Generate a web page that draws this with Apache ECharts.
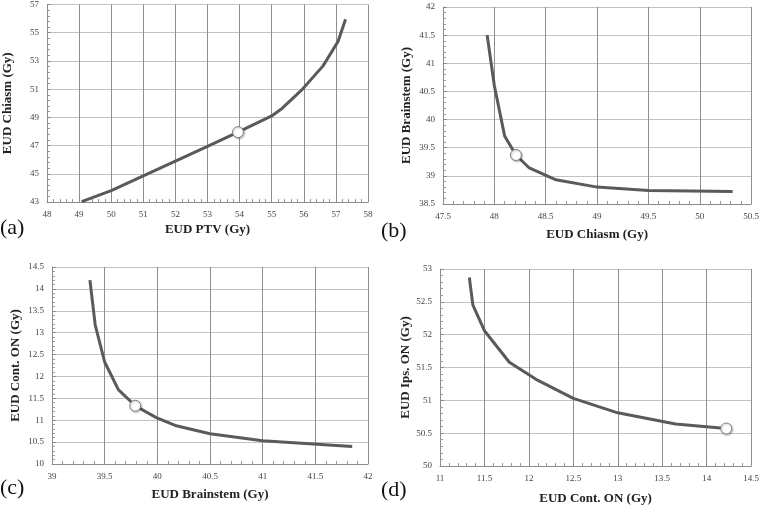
<!DOCTYPE html>
<html>
<head>
<meta charset="utf-8">
<script src="https://cdn.jsdelivr.net/npm/echarts@6/dist/echarts.min.js"></script>
<style>html,body{margin:0;padding:0;background:#fff;}#c{width:762px;height:506px;}</style>
</head>
<body>
<div id="c"></div>
<script>
// Panel (a): EUD PTV vs EUD Chiasm
const aX = [49.08, 50.0, 51.0, 52.0, 53.0, 53.95, 55.0, 55.33, 55.97, 56.6, 57.07, 57.3];
const aY = [43.02, 43.8, 44.85, 45.9, 46.95, 47.95, 49.1, 49.65, 51.02, 52.65, 54.4, 55.95];
const aMark = [53.95, 47.95];
// Panel (b): EUD Chiasm vs EUD Brainstem
const bX = [47.93, 48.0, 48.1, 48.21, 48.34, 48.6, 49.0, 49.5, 50.32];
const bY = [41.5, 40.6, 39.71, 39.37, 39.14, 38.93, 38.8, 38.74, 38.72];
const bMark = [48.21, 39.37];
// Panel (c): EUD Brainstem vs EUD Cont. ON
const cX = [39.36, 39.41, 39.5, 39.63, 39.79, 39.99, 40.17, 40.5, 41.0, 41.85];
const cY = [14.2, 13.18, 12.33, 11.7, 11.33, 11.06, 10.88, 10.69, 10.53, 10.4];
const cMark = [39.79, 11.33];
// Panel (d): EUD Cont. ON vs EUD Ips. ON
const dX = [11.33, 11.37, 11.5, 11.78, 12.08, 12.5, 13.0, 13.65, 14.22];
const dY = [52.87, 52.45, 52.06, 51.58, 51.32, 51.03, 50.81, 50.64, 50.57];
const dMark = [14.22, 50.57];

const panelLabels = ['(a)', '(b)', '(c)', '(d)'];
const xNames = ['EUD PTV (Gy)', 'EUD Chiasm (Gy)', 'EUD Brainstem (Gy)', 'EUD Cont. ON (Gy)'];
const yNames = ['EUD Chiasm (Gy)', 'EUD Brainstem (Gy)', 'EUD Cont. ON (Gy)', 'EUD Ips. ON (Gy)'];
const xRanges = [[48, 58, 1], [47.5, 50.5, 0.5], [39, 42, 0.5], [11, 14.5, 0.5]];
const yRanges = [[43, 57, 2], [38.5, 42, 0.5], [10, 14.5, 0.5], [50, 53, 0.5]];

const grids = [
  {left: 46, top: 3, width: 322, height: 199},
  {left: 443, top: 7, width: 311, height: 197},
  {left: 52, top: 267, width: 316, height: 197},
  {left: 440, top: 269, width: 314, height: 198}
];
const xGaps = [21, 24, 24, 26];
const yGaps = [33, 30, 30, 27];

const SERIF = 'Liberation Serif';
function axisCommon(r, isX) {
  return {
    type: 'value', min: r[0], max: r[1], interval: r[2],
    axisLine: {show: true, onZero: false, lineStyle: {color: '#8c8c8c', width: 1}},
    axisTick: {show: true, inside: true, length: 4, lineStyle: {color: '#8c8c8c'}},
    minorTick: {show: true, splitNumber: 5, length: 3, lineStyle: {color: '#999'}},
    splitLine: {show: true, lineStyle: {color: isX ? '#8e8e8e' : '#c2c2c2', width: 1}},
    axisLabel: {fontFamily: SERIF, fontSize: 9, color: '#444', margin: 8,
      formatter: v => String(+v.toFixed(2))},
    nameLocation: 'middle',
    nameTextStyle: {fontFamily: SERIF, fontSize: 13, fontWeight: 'bold', color: '#222'}
  };
}

const xs = [aX, bX, cX, dX], ys = [aY, bY, cY, dY], marks = [aMark, bMark, cMark, dMark];
const xAxis = [], yAxis = [], series = [];
for (let i = 0; i < 4; i++) {
  xAxis.push(Object.assign(axisCommon(xRanges[i], true), {gridIndex: i, name: xNames[i], nameGap: xGaps[i]}));
  yAxis.push(Object.assign(axisCommon(yRanges[i], false), {gridIndex: i, name: yNames[i], nameGap: yGaps[i]}));
  series.push({
    type: 'line', xAxisIndex: i, yAxisIndex: i, symbol: 'none', smooth: false,
    lineStyle: {color: '#5a5a5a', width: 3}, z: 3,
    data: xs[i].map((x, k) => [x, ys[i][k]])
  });
  series.push({
    type: 'scatter', xAxisIndex: i, yAxisIndex: i, symbol: 'circle', symbolSize: 11, z: 4,
    itemStyle: {color: '#ffffff', opacity: 1, borderColor: '#808080', borderWidth: 1,
      shadowColor: 'rgba(0,0,0,0.25)', shadowBlur: 2, shadowOffsetX: 1, shadowOffsetY: 1},
    data: [marks[i]]
  });
}

const labelPos = [[0, 230], [381, 233], [0, 490], [381, 492]];
const graphic = panelLabels.map((t, i) => ({
  type: 'text', left: labelPos[i][0], top: labelPos[i][1] - 13,
  style: {text: t, font: '22px "Liberation Serif"', fill: '#111'}
}));

const chart = echarts.init(document.getElementById('c'), null, {renderer: 'canvas'});
chart.setOption({
  animation: false,
  backgroundColor: '#fff',
  grid: grids,
  xAxis: xAxis,
  yAxis: yAxis,
  series: series,
  graphic: graphic
});
</script>
</body>
</html>
